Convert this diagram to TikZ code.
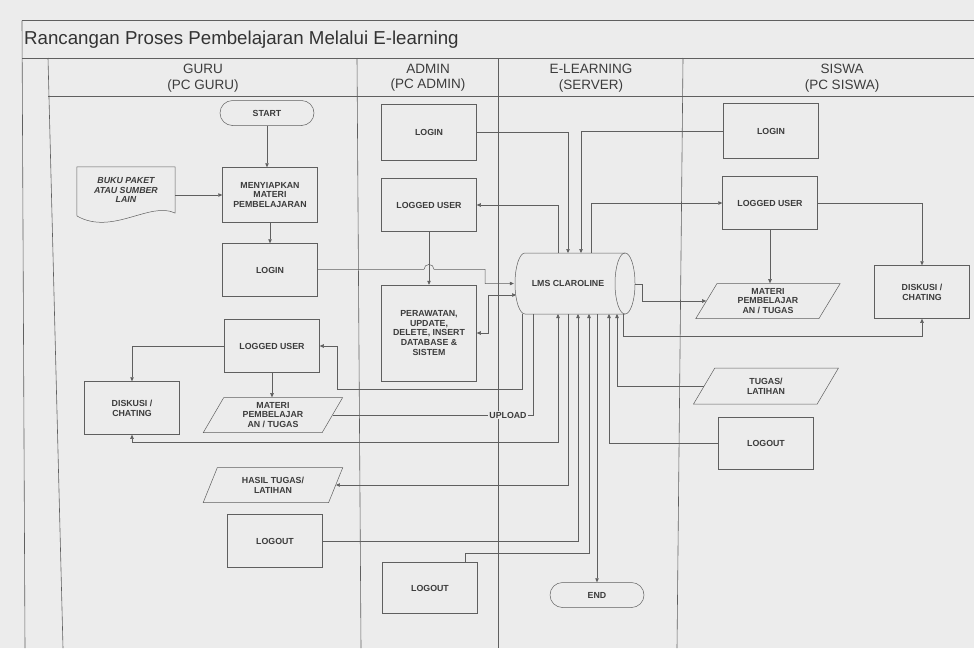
\documentclass[tikz,border=0pt]{standalone}
\usepackage{fontspec}
\setmainfont{Liberation Sans}
\usetikzlibrary{arrows.meta,shapes.geometric}
\definecolor{paper}{RGB}{236,236,236}
\definecolor{ink}{RGB}{95,95,95}
\definecolor{txt}{RGB}{60,60,60}
\newcommand{\bxf}{\fontsize{8.8}{9.8}\selectfont\bfseries}
\newcommand{\hdf}{\fontsize{13.5}{15.5}\selectfont}
\begin{document}
\begin{tikzpicture}[x=1pt,y=-1pt,
  lane/.style={draw=ink, line width=0.6pt},
  box/.style={draw=ink, line width=0.5pt, minimum width=95pt, minimum height=53pt, align=center, font=\bxf, text=txt, inner sep=1pt},
  para/.style={trapezium, trapezium left angle=64, trapezium right angle=116, trapezium stretches=true, draw=ink, line width=0.5pt, minimum width=140pt, minimum height=35pt, align=center, font=\bxf, text=txt, inner sep=0pt},
  term/.style={draw=ink, line width=0.5pt, rounded corners=12.5pt, minimum width=94pt, minimum height=25pt, font=\bxf, text=txt},
  hdr/.style={align=center, font=\hdf, text=txt},
  conn/.style={draw=ink, line width=0.5pt},
  arr/.style={conn, -{Triangle[length=4pt,width=3.5pt]}},
  biarr/.style={conn, {Triangle[length=4pt,width=3.5pt]}-{Triangle[length=4pt,width=3.5pt]}}]
\useasboundingbox (0,0) rectangle (974,648);
\fill[paper] (0,0) rectangle (974,648);

% frame and lanes
\draw[lane] (22,20.5) -- (974,20.5);
\draw[lane] (22,58) -- (974,58);
\draw[lane] (48,96) -- (974,96);
\draw[lane] (22,20.5) -- (25,648);
\draw[lane] (48,58) -- (63,648);
\draw[lane] (357,58) -- (361,648);
\draw[lane] (498,58) -- (498,648);
\draw[lane] (683,58) -- (677,648);

\node[anchor=west, font=\fontsize{18.7}{21}\selectfont, text=black!80, inner sep=0pt] (title) at (24,40) {Rancangan Proses Pembelajaran Melalui E-learning};
\node[hdr] (hGuru) at (203,78) {GURU\\(PC GURU)};
\node[hdr] (hAdmin) at (428,78) {ADMIN\\(PC ADMIN)};
\node[hdr] (hServer) at (591,78) {E-LEARNING\\(SERVER)};
\node[hdr] (hSiswa) at (842,78) {SISWA\\(PC SISWA)};

% GURU lane
\node[term] (start) at (267,113) {START};
\node[font=\bxf\itshape, align=center, text=txt, minimum width=98pt, minimum height=46pt, inner sep=0pt] (buku) at (126,190) {BUKU PAKET\\ATAU SUMBER\\LAIN};
\draw[conn] (buku.north west) -- (buku.north east) -- (175,213) .. controls (150,201) and (112,236) .. (77,216) -- cycle;
\node[box, minimum height=55pt] (menyiapkan) at (270,195) {MENYIAPKAN\\MATERI\\PEMBELAJARAN};
\node[box] (gLogin) at (270,270) {LOGIN};
\node[box] (gLogged) at (272,346) {LOGGED USER};
\node[box] (gDisk) at (132,408) {DISKUSI /\\CHATING};
\node[para] (gMateri) at (273,415) {MATERI\\PEMBELAJAR\\AN / TUGAS};
\node[para] (gHasil) at (273,485) {HASIL TUGAS/\\LATIHAN};
\node[box] (gLogout) at (275,541) {LOGOUT};

% ADMIN lane
\node[box, minimum height=56pt] (aLogin) at (429,132) {LOGIN};
\node[box] (aLogged) at (429,205) {LOGGED USER};
\node[box, minimum height=96pt] (aRawat) at (429,333) {PERAWATAN,\\UPDATE,\\DELETE, INSERT\\DATABASE \&\\SISTEM};
\node[box, minimum height=51pt] (aLogout) at (430,588) {LOGOUT};

% SERVER lane
\draw[conn] (525,253) -- (625,253) (525,314) -- (625,314)
  (525,253) arc[start angle=90, end angle=270, x radius=10pt, y radius=30.5pt];
\draw[conn] (625,283.5) ellipse [x radius=10pt, y radius=30.5pt];
\node[font=\bxf, text=txt, minimum width=108pt, minimum height=61pt, inner sep=0pt] (lms) at (568,283.5) {LMS CLAROLINE};
\node[term] (end) at (597,595) {END};

\coordinate (lmsT1) at (558,253);
\coordinate (lmsT2) at (568,253);
\coordinate (lmsT3) at (581,253);
\coordinate (lmsT4) at (591,253);
\coordinate (lmsW2) at (516,295);
\coordinate (lmsE) at (635,284);
\coordinate (lmsB1) at (522,314);
\coordinate (lmsB2) at (533,314);
\coordinate (lmsB3) at (558,314);
\coordinate (lmsB4) at (568,314);
\coordinate (lmsB5) at (578,314);
\coordinate (lmsB6) at (589,314);
\coordinate (lmsB7) at (597,314);
\coordinate (lmsB8) at (609,314);
\coordinate (lmsB9) at (617,314);
\coordinate (lmsB10) at (623,314);

% SISWA lane
\node[box, minimum height=55pt] (sLogin) at (771,131) {LOGIN};
\node[box] (sLogged) at (770,203) {LOGGED USER};
\node[para, minimum width=145pt] (sMateri) at (768,301) {MATERI\\PEMBELAJAR\\AN / TUGAS};
\node[box] (sDisk) at (922,292) {DISKUSI /\\CHATING};
\node[para, minimum width=145pt, minimum height=36pt] (sTugas) at (766,386) {TUGAS/\\LATIHAN};
\node[box, minimum height=52pt] (sLogout) at (766,443) {LOGOUT};

% connectors GURU
\draw[arr] (start) -- (start.south |- menyiapkan.north);
\draw[arr] (buku.east |- menyiapkan.west) -- (menyiapkan.west);
\draw[arr] (menyiapkan) -- (gLogin);
\draw[arr] (gLogin.east |- 0,269.4) -- (424,269.4) arc[start angle=180, end angle=0, radius=5pt] -- (485,269.4) -- (485,283.5) -- (lms.west);
\draw[arr] (gLogged.west) -| (gDisk.north);
\draw[arr] (gLogged) -- (gLogged.south |- gMateri.north);

% connectors ADMIN
\draw[arr] (aLogged) -- (aRawat);
\draw[biarr] (aRawat.east) -- (488,333) -- (488,295) -- (lmsW2);
\draw[arr] (aLogin.east) -| (lmsT2);
\draw[arr] (lmsT1) |- (aLogged.east);
\draw[arr] (aLogout.north -| 465,0) -- (465,553) -| (lmsB6);

% connectors SISWA
\draw[arr] (sLogin.west) -| (lmsT3);
\draw[arr] (lmsT4) |- (sLogged.west);
\draw[arr] (lmsE) -- (642,284) |- (sMateri.west);
\draw[arr] (sLogged) -- (sLogged.south |- sMateri.north);
\draw[arr] (sLogged.east) -| (sDisk.north);
\draw[arr] (lmsB10) -- (623,336) -| (sDisk.south);
\draw[arr] (sTugas.west) -| (lmsB9);
\draw[arr] (sLogout.west) -| (lmsB8);

% connectors LMS bottom
\draw[arr] (lmsB1) -- (522,389) -| (337,346) -- (gLogged.east);
\draw[conn] (gMateri.east) -| (lmsB2);
\node[fill=paper, inner sep=1pt, font=\bxf, text=txt] (upload) at (508,415) {UPLOAD};
\draw[biarr] (gDisk.south) -- (132,442) -| (lmsB3);
\draw[arr] (lmsB4) |- (gHasil.east);
\draw[arr] (gLogout.east) -| (lmsB5);
\draw[arr] (lmsB7) -- (end);
\end{tikzpicture}
\end{document}
